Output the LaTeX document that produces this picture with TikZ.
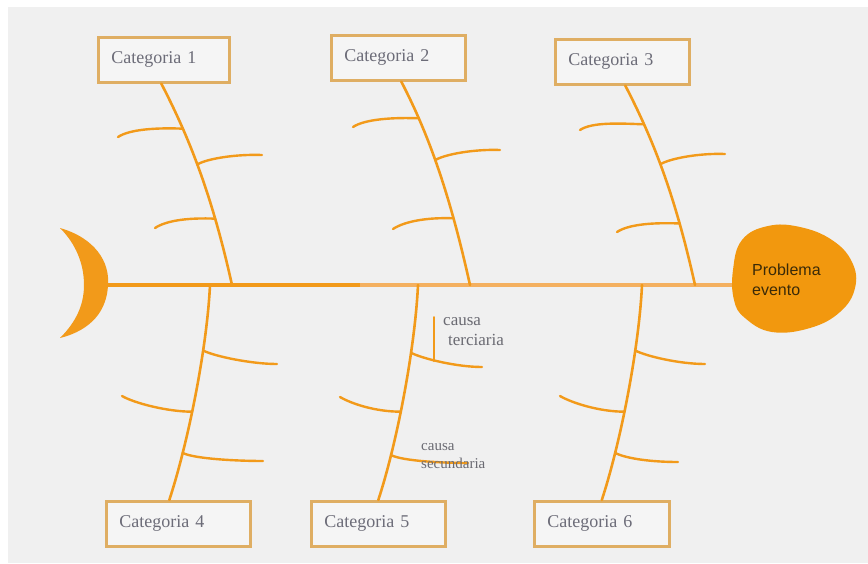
\documentclass[tikz,border=0pt]{standalone}
\usepackage{fontspec}
\setmainfont{Liberation Serif}
\newfontfamily\headfont{Liberation Sans}
\definecolor{bg}{HTML}{F0F0F0}
\definecolor{bone}{HTML}{F29A1A}
\definecolor{spinelight}{HTML}{F4B060}
\definecolor{boxline}{HTML}{DFAE63}
\definecolor{boxfill}{HTML}{F5F5F5}
\definecolor{cattext}{HTML}{6C6C78}
\definecolor{causetext}{HTML}{6A6A72}
\definecolor{headfill}{HTML}{F2980E}
\definecolor{headtext}{HTML}{3A2A08}
\begin{document}
\begin{tikzpicture}[x=1pt,y=-1pt,
  catbox/.style={draw=boxline, line width=2.6pt, fill=boxfill, anchor=north west,
    minimum height=45pt, inner xsep=13pt, inner ysep=0pt, align=left,
    font=\fontsize{18}{21}\selectfont, text=cattext},
  bonel/.style={draw=bone, line width=2.6pt, line cap=round},
  ribl/.style={draw=bone, line width=2.4pt, line cap=round},
  causelbl/.style={anchor=west, inner sep=0pt, align=left, text=causetext},
  spinel/.style={line width=4.6pt},
]
\useasboundingbox (0,0) rectangle (868,563);
\fill[white] (0,0) rectangle (868,563);
\fill[bg] (8,7) rectangle (868,563);

% category boxes
\node[catbox, text width=105pt] (c1) at (97,36) {Categoria 1};
\node[catbox, text width=108pt] (c2) at (330,34) {Categoria 2};
\node[catbox, text width=108pt] (c3) at (554,38) {Categoria 3};
\node[catbox, text width=118pt] (c4) at (105,500) {Categoria 4};
\node[catbox, text width=108pt] (c5) at (310,500) {Categoria 5};
\node[catbox, text width=109pt] (c6) at (533,500) {Categoria 6};

% spine points
\coordinate (tail) at (100,285);
\coordinate (mid) at (360,285);
\coordinate (headL) at (740,285);
\coordinate (s1) at (232,285);
\coordinate (s2) at (470,285);
\coordinate (s3) at (695,285);
\coordinate (s4) at (210,285);
\coordinate (s5) at (418,285);
\coordinate (s6) at (642,285);

% spine
\draw[spinel, draw=bone] (tail) -- (mid);
\draw[spinel, line width=4pt, draw=spinelight] (mid) -- (headL);

% tail
\fill[bone] (60,228) .. controls (95,238) and (110,262) .. (108,285)
  .. controls (107,310) and (92,330) .. (60,338)
  .. controls (76,322) and (84,305) .. (84,285)
  .. controls (84,264) and (76,244) .. (60,228);

% top bones
\draw[bonel] ([xshift=-2.5pt]c1.south) .. controls +(28,54) and +(-20,-90) .. (s1)
  coordinate[pos=0.27] (j11) coordinate[pos=0.467] (j12) coordinate[pos=0.73] (j13);
\draw[bonel] ([xshift=3pt]c2.south) .. controls +(28,54) and +(-20,-90) .. (s2)
  coordinate[pos=0.22] (j21) coordinate[pos=0.45] (j22) coordinate[pos=0.73] (j23);
\draw[bonel] ([xshift=3pt]c3.south) .. controls +(28,54) and +(-20,-90) .. (s3)
  coordinate[pos=0.235] (j31) coordinate[pos=0.46] (j32) coordinate[pos=0.75] (j33);

% bottom bones
\draw[bonel] (s4) .. controls +(-3,63) and +(19,-58) .. ([xshift=-9pt]c4.north)
  coordinate[pos=0.31] (j41) coordinate[pos=0.575] (j42) coordinate[pos=0.76] (j43);
\draw[bonel] (s5) .. controls +(-3,63) and +(19,-58) .. (c5.north)
  coordinate[pos=0.32] (j51) coordinate[pos=0.575] (j52) coordinate[pos=0.77] (j53);
\draw[bonel] (s6) .. controls +(-3,63) and +(19,-58) .. (c6.north)
  coordinate[pos=0.31] (j61) coordinate[pos=0.575] (j62) coordinate[pos=0.76] (j63);

% top ribs
\draw[ribl] (j11) .. controls +(-25,-1) and +(12,-8) .. (118,137);
\draw[ribl] (j12) .. controls +(10,-6) and +(-25,-1) .. (262,155);
\draw[ribl] (j13) .. controls +(-25,-1) and +(12,-8) .. (155,228);
\draw[ribl] (j21) .. controls +(-25,-1) and +(12,-8) .. (353,127);
\draw[ribl] (j22) .. controls +(10,-6) and +(-25,-1) .. (500,150);
\draw[ribl] (j23) .. controls +(-25,-1) and +(12,-8) .. (393,229);
\draw[ribl] (j31) .. controls +(-25,-1) and +(12,-8) .. (580,130);
\draw[ribl] (j32) .. controls +(10,-6) and +(-25,-1) .. (725,154);
\draw[ribl] (j33) .. controls +(-25,-1) and +(12,-8) .. (617,232);

% bottom ribs
\draw[ribl] (j41) .. controls +(12,6) and +(-25,0) .. (277,364);
\draw[ribl] (j42) .. controls +(-25,0) and +(12,7) .. (122,396);
\draw[ribl] (j43) .. controls +(12,6) and +(-25,0) .. (263,461);
\draw[ribl] (j51) .. controls +(12,6) and +(-25,0) .. (482,367);
\draw[ribl] (j52) .. controls +(-25,0) and +(12,7) .. (340,397);
\draw[ribl] (j53) .. controls +(12,6) and +(-25,0) .. (468,463);
\draw[ribl] (j61) .. controls +(12,6) and +(-25,0) .. (705,364);
\draw[ribl] (j62) .. controls +(-25,0) and +(12,7) .. (560,396);
\draw[ribl] (j63) .. controls +(12,6) and +(-25,0) .. (678,462);

% tertiary cause line
\coordinate (t5) at (434,317);
\draw[ribl, line width=2pt] (t5) -- (434,361);

% cause labels
\node[causelbl, font=\fontsize{17}{20}\selectfont] (tert) at (443,332) {causa\\\hspace*{5pt}terciaria};
\node[causelbl, font=\fontsize{15}{18}\selectfont] (sec) at (421,456) {causa\\secundaria};

% head
\fill[headfill] plot[smooth cycle, tension=0.7] coordinates {
  (733,270) (742,240) (768,226) (800,227) (832,240) (852,262) (855,288)
  (840,312) (810,328) (772,332) (745,318) (734,300)};
\node[anchor=west, inner sep=0pt, align=left, text=headtext,
  font=\headfont\fontsize{16}{20}\selectfont] (head) at (752,280) {Problema\\evento};
\end{tikzpicture}
\end{document}
